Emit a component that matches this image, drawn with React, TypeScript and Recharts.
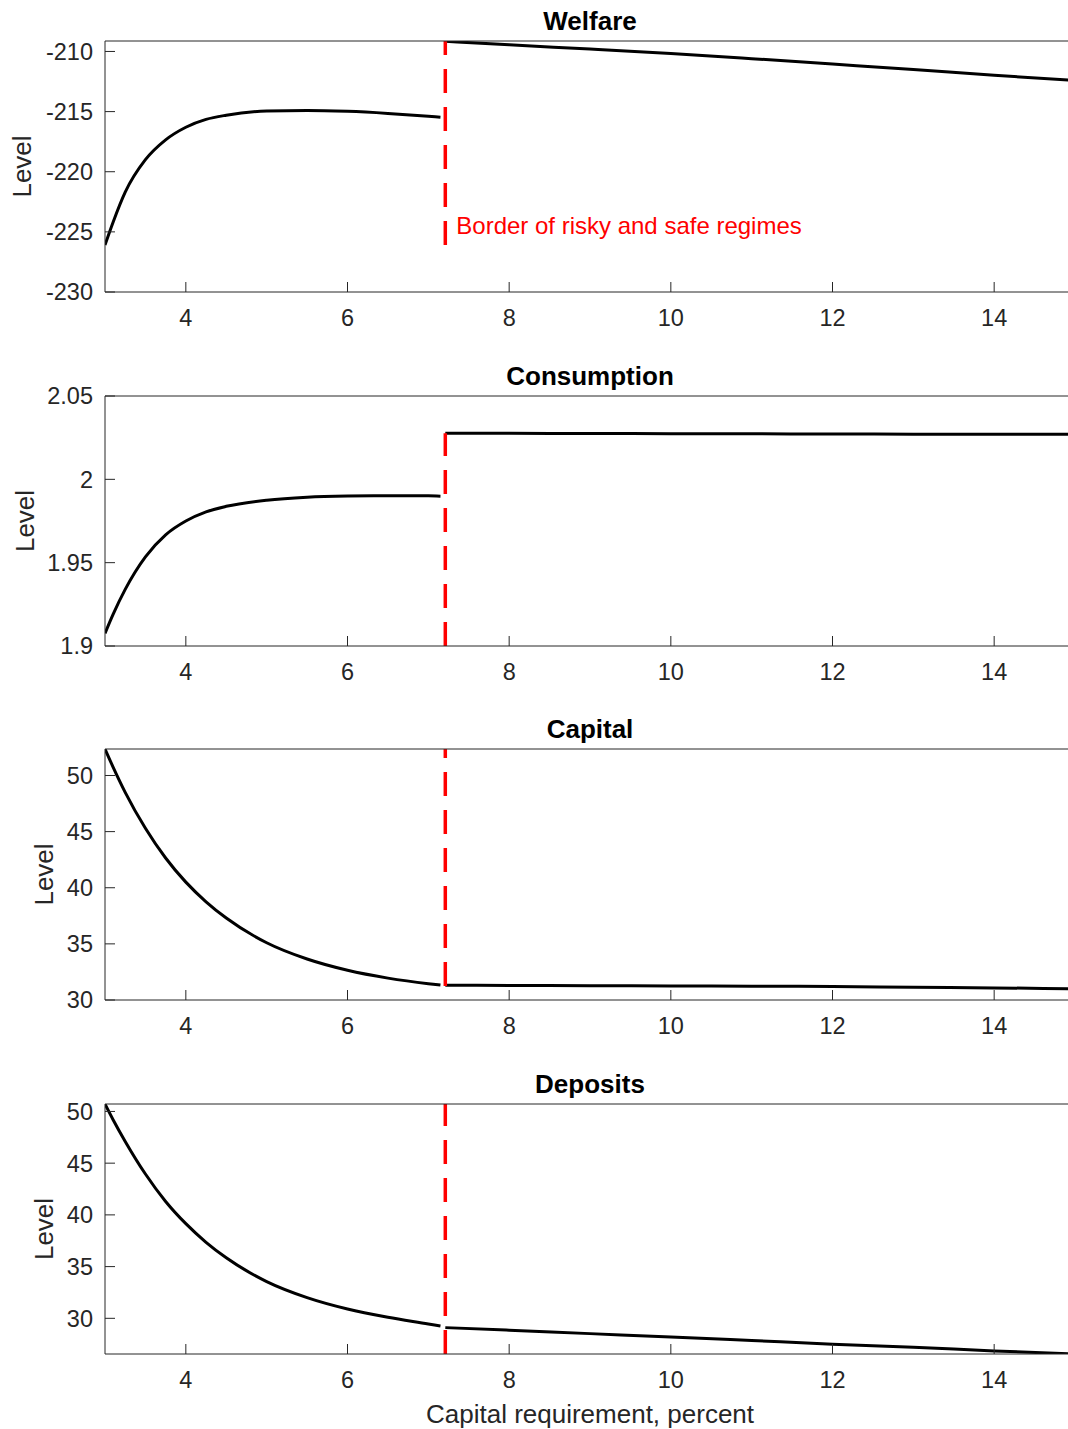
import { LineChart, Line, XAxis, YAxis, ReferenceLine, ReferenceDot } from 'recharts';

document.body.style.margin = '0';

// capital requirement grid, risky regime (left) and safe regime (right)
const riskyX = [3, 3.1, 3.25, 3.5, 3.75, 4, 4.25, 4.5, 5, 5.5, 6, 6.5, 7, 7.15];
const safeX = [7.21, 8, 9, 10, 11, 12, 13, 14, 15];
const xTicks = [4, 6, 8, 10, 12, 14];
const borderX = 7.21;

const welfareRisky = [-226.1, -224.2, -221.7, -219.0, -217.35, -216.3, -215.65, -215.3, -214.95, -214.9, -214.98, -215.15, -215.38, -215.46];
const welfareSafe = [-209.15, -209.45, -209.8, -210.17, -210.6, -211.05, -211.5, -211.98, -212.4];
const welfareTicks = [-230, -225, -220, -215, -210];

const consumptionRisky = [1.9076, 1.919, 1.934, 1.9535, 1.9667, 1.975, 1.9805, 1.9838, 1.9875, 1.9893, 1.99, 1.9902, 1.9901, 1.9899];
const consumptionSafe = [2.0276, 2.0276, 2.0275, 2.0274, 2.0273, 2.0272, 2.0271, 2.027, 2.027];
const consumptionTicks = [1.9, 1.95, 2, 2.05];

const capitalRisky = [52.36, 50.75, 48.5, 45.3, 42.65, 40.5, 38.75, 37.3, 35.1, 33.65, 32.65, 31.95, 31.45, 31.33];
const capitalSafe = [31.32, 31.3, 31.28, 31.25, 31.23, 31.2, 31.14, 31.08, 31.0];
const capitalTicks = [30, 35, 40, 45, 50];

const depositsRisky = [50.72, 49.2, 47.1, 43.95, 41.3, 39.15, 37.35, 35.85, 33.55, 32.0, 30.9, 30.1, 29.45, 29.25];
const depositsSafe = [29.1, 28.85, 28.52, 28.2, 27.85, 27.5, 27.2, 26.85, 26.55];
const depositsTicks = [30, 35, 40, 45, 50];

const axisColor = '#262626';
const font = '"Liberation Sans", Arial, Helvetica, sans-serif';

function buildRows(risky: number[], safe: number[]) {
  return [
    ...riskyX.map((x, i) => ({ x, risky: risky[i], safe: null as number | null })),
    ...safeX.map((x, i) => ({ x, risky: null as number | null, safe: safe[i] })),
  ];
}

interface PanelProps {
  title: string;
  rows: { x: number; risky: number | null; safe: number | null }[];
  yDomain: [number, number];
  yTicks: number[];
  border: [number, number];
  top: number;
  plotHeight: number;
  height: number;
  levelX: number;
  xLabel?: string;
  note?: { y: number; text: string };
}

function Panel({ title, rows, yDomain, yTicks, border, top, plotHeight, height, levelX, xLabel, note }: PanelProps) {
  const xAxisHeight = height - 41 - plotHeight;
  return (
    <div style={{ position: 'absolute', left: 0, top }}>
      <LineChart width={1076} height={height} data={rows} margin={{ top: 40, right: 0, bottom: 0, left: 0 }}>
        <XAxis
          dataKey="x"
          type="number"
          domain={[3, 15]}
          ticks={xTicks}
          allowDataOverflow
          height={xAxisHeight}
          tickSize={-10}
          tickMargin={27}
          stroke={axisColor}
          tick={{ fill: axisColor, fontSize: 23.5 }}
          label={
            xLabel
              ? { value: xLabel, position: 'insideTop', offset: 51, fill: axisColor, fontSize: 26 }
              : undefined
          }
        />
        <XAxis
          xAxisId="t"
          dataKey="x"
          orientation="top"
          type="number"
          domain={[3, 15]}
          ticks={xTicks}
          allowDataOverflow
          height={1}
          tickSize={-10}
          tick={false}
          stroke={axisColor}
          label={{ value: title, position: 'top', offset: 10, fill: '#000', fontSize: 26, fontWeight: 'bold' }}
        />
        <YAxis
          type="number"
          domain={yDomain}
          ticks={yTicks}
          allowDataOverflow
          width={105}
          tickSize={-10}
          tickMargin={22}
          stroke={axisColor}
          tick={{ fill: axisColor, fontSize: 23.5 }}
          label={{
            value: 'Level',
            angle: -90,
            position: 'insideLeft',
            offset: levelX,
            fill: axisColor,
            fontSize: 26,
            style: { textAnchor: 'middle' },
          }}
        />
        <YAxis
          yAxisId="r"
          orientation="right"
          type="number"
          domain={yDomain}
          ticks={yTicks}
          allowDataOverflow
          width={1}
          tickSize={-10}
          tick={false}
          stroke={axisColor}
        />
        <Line dataKey="risky" type="monotone" stroke="#000" strokeWidth={3} dot={false} activeDot={false} isAnimationActive={false} />
        <Line dataKey="safe" type="monotone" stroke="#000" strokeWidth={3} dot={false} activeDot={false} isAnimationActive={false} />
        <ReferenceLine
          segment={[
            { x: borderX, y: border[0] },
            { x: borderX, y: border[1] },
          ]}
          stroke="#ff0000"
          strokeWidth={3.5}
          strokeDasharray="24 14"
        />
        {note && (
          <ReferenceDot
            x={borderX}
            y={note.y}
            r={1}
            fill="none"
            stroke="none"
            label={{ value: note.text, position: 'right', offset: 10, fill: '#ff0000', fontSize: 24 }}
          />
        )}
      </LineChart>
    </div>
  );
}

export default function App() {
  return (
    <div style={{ position: 'relative', width: 1068, height: 1429, overflow: 'hidden', background: '#fff', fontFamily: font }}>
      <Panel
        title="Welfare"
        rows={buildRows(welfareRisky, welfareSafe)}
        yDomain={[-230, -209.13]}
        yTicks={welfareTicks}
        border={[-226.1, -209.13]}
        top={0}
        plotHeight={251}
        height={355}
        levelX={22}
        note={{ y: -224.5, text: 'Border of risky and safe regimes' }}
      />
      <Panel
        title="Consumption"
        rows={buildRows(consumptionRisky, consumptionSafe)}
        yDomain={[1.9, 2.05]}
        yTicks={consumptionTicks}
        border={[1.9, 2.0276]}
        top={355}
        plotHeight={250}
        height={354}
        levelX={25}
      />
      <Panel
        title="Capital"
        rows={buildRows(capitalRisky, capitalSafe)}
        yDomain={[30, 52.36]}
        yTicks={capitalTicks}
        border={[31.25, 52.36]}
        top={708}
        plotHeight={251}
        height={355}
        levelX={44}
      />
      <Panel
        title="Deposits"
        rows={buildRows(depositsRisky, depositsSafe)}
        yDomain={[26.55, 50.72]}
        yTicks={depositsTicks}
        border={[26.55, 50.72]}
        top={1063}
        plotHeight={250}
        height={366}
        levelX={44}
        xLabel="Capital requirement, percent"
      />
    </div>
  );
}
